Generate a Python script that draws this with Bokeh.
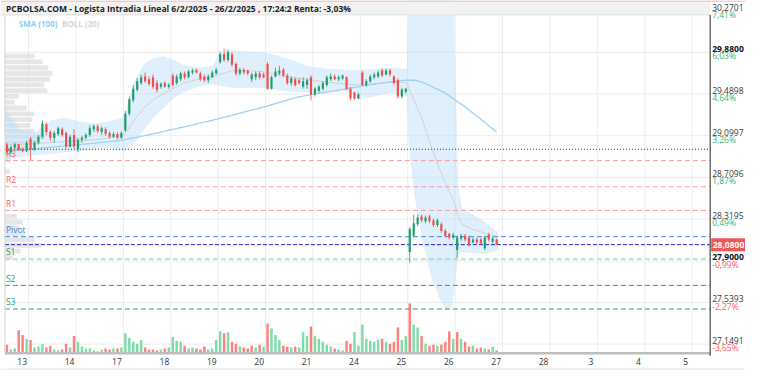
import numpy as np
from bokeh.plotting import figure
from bokeh.models import Range1d, ColumnDataSource
from bokeh.embed import file_html
from bokeh.resources import INLINE
from bokeh.core.properties import value

TITLE = "PCBOLSA.COM - Logista Intradia Lineal 6/2/2025 - 26/2/2025 , 17:24:2 Renta: -3,03%"
day_labels = ["13", "14", "17", "18", "19", "20", "21", "24", "25", "26", "27", "28", "3", "4", "5"]
SLOTS = 12
# (session index, first slot, number of candles)
sessions = [(-1, 6, 6), (0, 0, 12), (1, 0, 12), (2, 0, 12), (3, 0, 12), (4, 0, 12),
            (5, 0, 12), (6, 0, 12), (7, 0, 12), (8, 0, 12), (9, 0, 11)]

opens = [
    29.017, 28.946, 28.990, 29.017, 28.973, 28.955,
    29.071, 28.973, 29.035, 29.089, 29.206, 29.134, 29.080, 29.116, 29.161, 29.125, 28.999, 29.107,
    28.973, 29.062, 29.080, 29.107, 29.161, 29.188, 29.134, 29.161, 29.125, 29.089, 29.116, 29.080,
    29.152, 29.305, 29.431, 29.530, 29.593, 29.655, 29.628, 29.646, 29.593, 29.557, 29.593, 29.557,
    29.664, 29.593, 29.628, 29.682, 29.646, 29.691, 29.718, 29.682, 29.655, 29.619, 29.646, 29.682,
    29.790, 29.862, 29.808, 29.862, 29.772, 29.682, 29.718, 29.709, 29.628, 29.646, 29.682, 29.673,
    29.772, 29.539, 29.655, 29.682, 29.718, 29.664, 29.593, 29.628, 29.619, 29.557, 29.575, 29.646,
    29.485, 29.521, 29.539, 29.575, 29.628, 29.655, 29.628, 29.637, 29.646, 29.539, 29.503, 29.449,
    29.691, 29.575, 29.610, 29.646, 29.655, 29.709, 29.673, 29.709, 29.655, 29.619, 29.467, 29.512,
    28.011, 28.164, 28.272, 28.344, 28.299, 28.344, 28.308, 28.263, 28.272, 28.209, 28.182, 28.146,
    28.029, 28.137, 28.164, 28.146, 28.101, 28.128, 28.128, 28.047, 28.173, 28.110, 28.128,
]
highs = [
    29.035, 29.008, 29.035, 29.026, 28.990, 29.053,
    29.089, 29.053, 29.107, 29.242, 29.224, 29.152, 29.143, 29.188, 29.179, 29.143, 29.107, 29.161,
    29.080, 29.098, 29.125, 29.197, 29.206, 29.206, 29.188, 29.179, 29.143, 29.134, 29.134, 29.143,
    29.332, 29.467, 29.575, 29.637, 29.673, 29.691, 29.655, 29.673, 29.619, 29.601, 29.610, 29.593,
    29.682, 29.673, 29.700, 29.700, 29.718, 29.727, 29.727, 29.700, 29.673, 29.673, 29.709, 29.736,
    29.889, 29.916, 29.907, 29.880, 29.790, 29.736, 29.736, 29.718, 29.691, 29.700, 29.700, 29.691,
    29.790, 29.664, 29.736, 29.754, 29.736, 29.682, 29.655, 29.646, 29.637, 29.646, 29.637, 29.664,
    29.557, 29.575, 29.610, 29.664, 29.682, 29.673, 29.664, 29.673, 29.655, 29.557, 29.512, 29.503,
    29.709, 29.628, 29.673, 29.691, 29.709, 29.727, 29.727, 29.727, 29.664, 29.637, 29.548, 29.548,
    28.245, 28.362, 28.362, 28.362, 28.353, 28.362, 28.326, 28.326, 28.290, 28.227, 28.191, 28.191,
    28.164, 28.182, 28.182, 28.164, 28.146, 28.146, 28.146, 28.164, 28.191, 28.155, 28.137,
]
lows = [
    28.928, 28.928, 28.964, 28.955, 28.946, 28.946,
    28.874, 28.955, 29.017, 29.071, 29.107, 29.053, 29.035, 29.098, 29.089, 28.981, 28.990, 28.981,
    28.946, 29.035, 29.062, 29.089, 29.134, 29.125, 29.107, 29.098, 29.071, 29.080, 29.062, 29.071,
    29.134, 29.287, 29.413, 29.512, 29.575, 29.593, 29.566, 29.539, 29.503, 29.539, 29.548, 29.539,
    29.557, 29.575, 29.610, 29.628, 29.637, 29.673, 29.682, 29.610, 29.601, 29.593, 29.637, 29.673,
    29.772, 29.790, 29.790, 29.745, 29.664, 29.664, 29.673, 29.664, 29.601, 29.619, 29.628, 29.637,
    29.530, 29.530, 29.646, 29.664, 29.646, 29.575, 29.566, 29.557, 29.575, 29.539, 29.539, 29.431,
    29.467, 29.503, 29.521, 29.557, 29.610, 29.619, 29.610, 29.619, 29.530, 29.431, 29.431, 29.440,
    29.566, 29.557, 29.593, 29.628, 29.637, 29.646, 29.664, 29.655, 29.575, 29.449, 29.449, 29.494,
    27.912, 28.146, 28.254, 28.290, 28.281, 28.281, 28.245, 28.245, 28.191, 28.146, 28.128, 28.128,
    27.957, 28.119, 28.110, 28.065, 28.092, 28.083, 28.074, 28.029, 28.110, 28.092, 28.074,
]
closes = [
    28.946, 28.990, 29.017, 28.973, 28.955, 29.035,
    28.973, 29.035, 29.089, 29.215, 29.134, 29.080, 29.125, 29.170, 29.107, 28.999, 29.089, 28.999,
    29.062, 29.080, 29.107, 29.170, 29.188, 29.143, 29.170, 29.116, 29.089, 29.116, 29.080, 29.125,
    29.305, 29.440, 29.539, 29.610, 29.646, 29.610, 29.584, 29.557, 29.530, 29.584, 29.557, 29.575,
    29.575, 29.655, 29.682, 29.646, 29.700, 29.709, 29.691, 29.628, 29.619, 29.655, 29.691, 29.718,
    29.862, 29.808, 29.880, 29.763, 29.682, 29.718, 29.691, 29.682, 29.673, 29.682, 29.646, 29.646,
    29.539, 29.646, 29.700, 29.709, 29.664, 29.593, 29.637, 29.575, 29.593, 29.610, 29.619, 29.485,
    29.539, 29.557, 29.593, 29.646, 29.655, 29.628, 29.646, 29.664, 29.539, 29.449, 29.449, 29.485,
    29.575, 29.610, 29.655, 29.673, 29.691, 29.664, 29.709, 29.673, 29.593, 29.467, 29.530, 29.539,
    28.227, 28.281, 28.335, 28.308, 28.335, 28.299, 28.263, 28.308, 28.209, 28.164, 28.146, 28.173,
    28.146, 28.164, 28.128, 28.074, 28.128, 28.101, 28.092, 28.146, 28.128, 28.137, 28.080,
]
volumes = [
    9, 4, 5, 24, 19, 15,
    14, 6, 7, 10, 6, 8, 4, 3, 4, 10, 6, 18,
    12, 7, 5, 5, 3, 2, 4, 5, 4, 5, 5, 6,
    21, 16, 12, 10, 14, 6, 4, 4, 3, 4, 5, 6,
    17, 13, 12, 8, 5, 6, 5, 4, 7, 4, 5, 14,
    23, 21, 22, 12, 10, 7, 6, 5, 8, 6, 9, 7,
    31, 26, 19, 14, 8, 7, 6, 7, 6, 22, 18, 28,
    18, 15, 12, 9, 7, 5, 4, 3, 13, 10, 22, 8,
    30, 15, 13, 12, 14, 15, 12, 10, 12, 27, 14, 18,
    52, 30, 27, 18, 10, 8, 9, 8, 9, 12, 23, 15,
    22, 15, 12, 7, 8, 5, 6, 5, 4, 7, 3,
]

# Bollinger (20) and SMA (100), sampled along the time axis (session units)
bb_t = [-0.499, -0.166, 0.145, 0.457, 0.769, 1.081, 1.392, 1.704, 2.016, 2.224, 2.431, 2.639, 2.847,
        3.055, 3.263, 3.574, 3.886, 4.032, 4.302, 4.613, 4.925, 5.237, 5.549, 5.860, 6.276, 6.692,
        7.003, 7.315, 7.627, 7.897, 7.980, 8.022, 8.146, 8.313, 8.479, 8.645, 8.811, 8.936, 8.998,
        9.061, 9.144, 9.352, 9.601, 9.809, 9.913]
bb_up = [29.359, 29.152, 29.134, 29.242, 29.269, 29.233, 29.215, 29.233, 29.269, 29.601, 29.772, 29.826,
         29.844, 29.808, 29.763, 29.736, 29.754, 29.871, 29.898, 29.889, 29.880, 29.853, 29.808, 29.754,
         29.727, 29.718, 29.718, 29.727, 29.736, 29.727, 29.727, 30.635, 30.994, 31.174, 31.219, 31.174,
         30.994, 30.725, 29.826, 28.658, 28.424, 28.370, 28.299, 28.227, 28.200]
bb_mid = [29.017, 29.017, 29.026, 29.035, 29.044, 29.053, 29.062, 29.080, 29.107, 29.242, 29.359, 29.440,
          29.494, 29.539, 29.593, 29.628, 29.655, 29.673, 29.709, 29.709, 29.700, 29.673, 29.646, 29.628,
          29.601, 29.584, 29.575, 29.584, 29.601, 29.601, 29.593, 29.539, 29.422, 29.242, 29.017, 28.820,
          28.640, 28.523, 28.460, 28.344, 28.272, 28.227, 28.191, 28.164, 28.155]
bb_lo = [28.883, 28.901, 28.919, 28.928, 28.946, 28.955, 28.973, 28.990, 28.955, 29.017, 29.152, 29.269,
         29.359, 29.449, 29.503, 29.557, 29.584, 29.566, 29.548, 29.548, 29.548, 29.530, 29.512, 29.503,
         29.494, 29.521, 29.440, 29.467, 29.503, 29.467, 29.467, 29.017, 28.523, 28.119, 27.805, 27.598,
         27.463, 27.508, 27.715, 27.984, 28.011, 28.002, 27.993, 28.011, 28.029]
sma_t = [-0.457, 0.042, 0.665, 1.288, 1.912, 2.535, 3.159, 3.782, 4.406, 5.029, 5.653, 6.068, 6.692,
         7.315, 7.938, 8.146, 8.354, 8.770, 9.185, 9.601, 9.871]
sma100 = [28.955, 28.973, 28.999, 29.026, 29.053, 29.107, 29.170, 29.233, 29.305, 29.377, 29.458, 29.494,
          29.539, 29.584, 29.619, 29.619, 29.593, 29.503, 29.377, 29.233, 29.134]

# volume-at-price profile
prof_price = [29.844, 29.790, 29.736, 29.682, 29.628, 29.575, 29.521, 29.467, 29.413, 29.359, 29.305,
              29.251, 29.197, 29.143, 29.089, 29.035, 28.981, 28.928, 28.874, 28.766, 28.344, 28.290,
              28.236, 28.182, 28.128, 28.074, 28.020, 27.966]
prof_vol = [30, 38, 44, 48, 46, 40, 43, 14, 10, 22, 30, 28, 26, 30, 40, 34, 22, 10, 6, 5, 12, 18, 15,
            20, 30, 37, 16, 8]

pivot_names = ["R3", "R2", "R1", "Pivot", "S1", "S2", "S3"]
pivot_values = [28.867, 28.622, 28.400, 28.155, 27.946, 27.699, 27.478]
prev_close = 28.973
last_price = 28.08
last_label = "28,0800"

tick_prices = [30.2701, 29.8800, 29.4898, 29.0997, 28.7096, 28.3195, 27.9294, 27.5393, 27.1491]
tick_text = ["30,2701", "29,8800", "29,4898", "29,0997", "28,7096", "28,3195", "27,9000", "27,5393", "27,1491"]
tick_pct = ["7,41%", "6,03%", "4,64%", "3,26%", "1,87%", "0,49%", "-0,99%", "-2,27%", "-3,65%"]
tick_bold = [False, True, False, False, False, False, True, False, False]

# ---------------------------------------------------------------- layout
W, H = 745, 370
SX, SY = 0.985, 0.96          # fit of the 761x386 picture into the figure
PPX = 48.12 * SX              # px per session
X0 = -(28 * SX + 0.5) / PPX
X1 = X0 + W / PPX
Y1 = 30.3652
Y0 = Y1 - H / (111.3 * SY)
PPY = H / (Y1 - Y0)
BASE = 27.063                 # bottom axis / volume baseline
VOL_PX = SY
FONT = value("Open Sans")


def dx(px):
    return px / PPX


def dy(px):
    return px / PPY


def rx(ref_x):
    return (SX * ref_x + 0.5) / PPX + X0


def ry(ref_y):
    return Y1 - ref_y * SY / PPY


XL = rx(4)        # left edge of chart
AX = rx(720)      # right price axis
TOP = ry(15)

p = figure(width=W, height=H, x_range=Range1d(X0, X1), y_range=Range1d(Y0, Y1),
           x_axis_type=None, y_axis_type=None, toolbar_location=None,
           output_backend="svg", min_border=0, outline_line_color=None)
p.background_fill_color = "white"
p.border_fill_color = "white"
base_px = (BASE - Y0) * PPY
vstart = -base_px / VOL_PX
p.extra_y_ranges = {"vol": Range1d(vstart, vstart + H / VOL_PX)}

# grid
n_days = len(day_labels)
p.segment(x0=list(range(n_days)), y0=[BASE] * n_days, x1=list(range(n_days)), y1=[TOP] * n_days,
          line_color="#ececec", line_width=1)
p.segment(x0=[XL] * len(tick_prices), y0=tick_prices, x1=[AX] * len(tick_prices), y1=tick_prices,
          line_color="#ececec", line_width=1)

# profile
p.hbar(y=prof_price, left=XL, right=[XL + v / 48.12 for v in prof_vol], height=0.045,
       fill_color="#d6d6d6", fill_alpha=0.6, line_color=None)

# bollinger band
p.varea(x=bb_t, y1=bb_lo, y2=bb_up, fill_color="#b9dcf7", fill_alpha=0.45)
p.line(bb_t, bb_mid, line_color="#d2d2d2", line_width=1)
p.line(sma_t, sma100, line_color="#9fd0f5", line_width=1.3)

# times
t = []
for d, s0, n in sessions:
    for s in range(s0, s0 + n):
        t.append(d + (s + 0.5) / SLOTS)

# volume
prev = [opens[0]] + closes[:-1]
vcol = ["#7fdca8" if c >= pc else "#ff8080" for c, pc in zip(closes, prev)]
p.vbar(x=t, width=0.62 / SLOTS, top=volumes, bottom=0, y_range_name="vol",
       fill_color=vcol, line_color=None)

# pivot lines
pcols = ["#ff9e9e", "#ff9e9e", "#ff9e9e", "#3d8ee8", "#86cdaa", "#3a9a78", "#3a9a78"]
tcols = ["#ff6464", "#ff6464", "#ff6464", "#3a80dc", "#2f9e72", "#2f9e72", "#2f9e72"]
for v, lc in zip(pivot_values, pcols):
    p.segment(x0=[XL], y0=[v], x1=[AX], y1=[v], line_color=lc, line_width=1, line_dash="5 3")
p.segment(x0=[XL], y0=[prev_close], x1=[AX], y1=[prev_close], line_color="#333333",
          line_width=1, line_dash="1 2")
p.segment(x0=[XL], y0=[last_price], x1=[AX], y1=[last_price], line_color="#2424c8",
          line_width=1, line_dash="4 2")
p.text(x=[rx(5)] * len(pivot_names), y=[v + dy(1.5) for v in pivot_values], text=pivot_names,
       text_color=tcols, text_font=FONT, text_font_size=value("8.5px"),
       text_baseline="bottom", text_align="left")

# candles
up = [c >= o for o, c in zip(opens, closes)]
ccol = ["#1f9d6a" if u else "#f24d4d" for u in up]
tops, bots = [], []
for o, c in zip(opens, closes):
    hi, lo = max(o, c), min(o, c)
    if hi - lo < 0.006:
        m = (hi + lo) / 2
        hi, lo = m + 0.003, m - 0.003
    tops.append(hi)
    bots.append(lo)
p.segment(x0=t, y0=lows, x1=t, y1=highs, line_color=ccol, line_width=1, line_alpha=0.8)
p.vbar(x=t, width=0.55 / SLOTS, top=tops, bottom=bots, fill_color=ccol, line_color=None)

# frame lines
p.segment(x0=[XL], y0=[BASE], x1=[AX], y1=[BASE], line_color="#bdbdbd", line_width=2.5)
p.segment(x0=[XL], y0=[BASE], x1=[XL], y1=[TOP], line_color="#d4d4d4", line_width=1)
p.segment(x0=[X0], y0=[ry(384)], x1=[X1], y1=[ry(384)], line_color="#e4e4e4", line_width=1)

# title bar
p.quad(left=[X0], right=[AX], top=[Y1], bottom=[TOP], fill_color="#f2f2f2", line_color=None)
p.segment(x0=[X0], y0=[TOP], x1=[AX], y1=[TOP], line_color="#e0e0e0", line_width=1)
p.segment(x0=[X0], y0=[Y1 - dy(0.6)], x1=[X1], y1=[Y1 - dy(0.6)], line_color="#f2bcbc", line_width=1.2)
p.text(x=[rx(5)], y=[ry(8)], text=[TITLE], text_color="#1e1e1e", text_font=FONT,
       text_font_size=value("8.5px"), text_font_style="bold", text_baseline="middle", text_align="left")

# legend
p.text(x=[rx(18)], y=[ry(24)], text=["SMA (100)"], text_color="#93cbf3", text_font=FONT,
       text_font_size=value("8px"), text_font_style="bold", text_baseline="middle")
p.text(x=[rx(62)], y=[ry(24)], text=["BOLL (20)"], text_color="#d6d6d6", text_font=FONT,
       text_font_size=value("8px"), text_font_style="bold", text_baseline="middle")

# right price axis
p.segment(x0=[AX], y0=[TOP], x1=[AX], y1=[ry(370)], line_color="#555555", line_width=1.3)
LX = rx(722)
off = dy(3.6)
norm = ColumnDataSource(dict(
    x=[LX] * sum(not b for b in tick_bold),
    y=[tp + off for tp, b in zip(tick_prices, tick_bold) if not b],
    t=[tt for tt, b in zip(tick_text, tick_bold) if not b]))
bold = ColumnDataSource(dict(
    x=[LX] * sum(tick_bold),
    y=[tp + off for tp, b in zip(tick_prices, tick_bold) if b],
    t=[tt for tt, b in zip(tick_text, tick_bold) if b]))
p.text(x="x", y="y", text="t", source=norm, text_color="#3a3a3a", text_font=FONT,
       text_font_size=value("8.5px"), text_baseline="middle", text_align="left")
p.text(x="x", y="y", text="t", source=bold, text_color="#111111", text_font=FONT,
       text_font_size=value("8.5px"), text_font_style="bold", text_baseline="middle", text_align="left")
pct_col = ["#ff5a5a" if s.startswith("-") else "#3bb27a" for s in tick_pct]
p.text(x=[LX] * len(tick_pct), y=[tp - off for tp in tick_prices], text=tick_pct, text_color=pct_col,
       text_font=FONT, text_font_size=value("8.5px"), text_baseline="middle", text_align="left")

# last price tag
p.quad(left=[rx(721)], right=[X1], top=[last_price + dy(6.5)], bottom=[last_price - dy(6.5)],
       fill_color="#f25555", line_color=None)
p.text(x=[rx(722.5)], y=[last_price], text=[last_label], text_color="white", text_font=FONT,
       text_font_size=value("8.5px"), text_font_style="bold", text_baseline="middle", text_align="left")

# x-axis labels
p.text(x=[i - 0.135 for i in range(n_days)], y=[ry(376)] * n_days, text=day_labels,
       text_color="#333333", text_font=FONT, text_font_size=value("8.5px"),
       text_baseline="middle", text_align="center")

open("out.html", "w").write(file_html(p, INLINE))
